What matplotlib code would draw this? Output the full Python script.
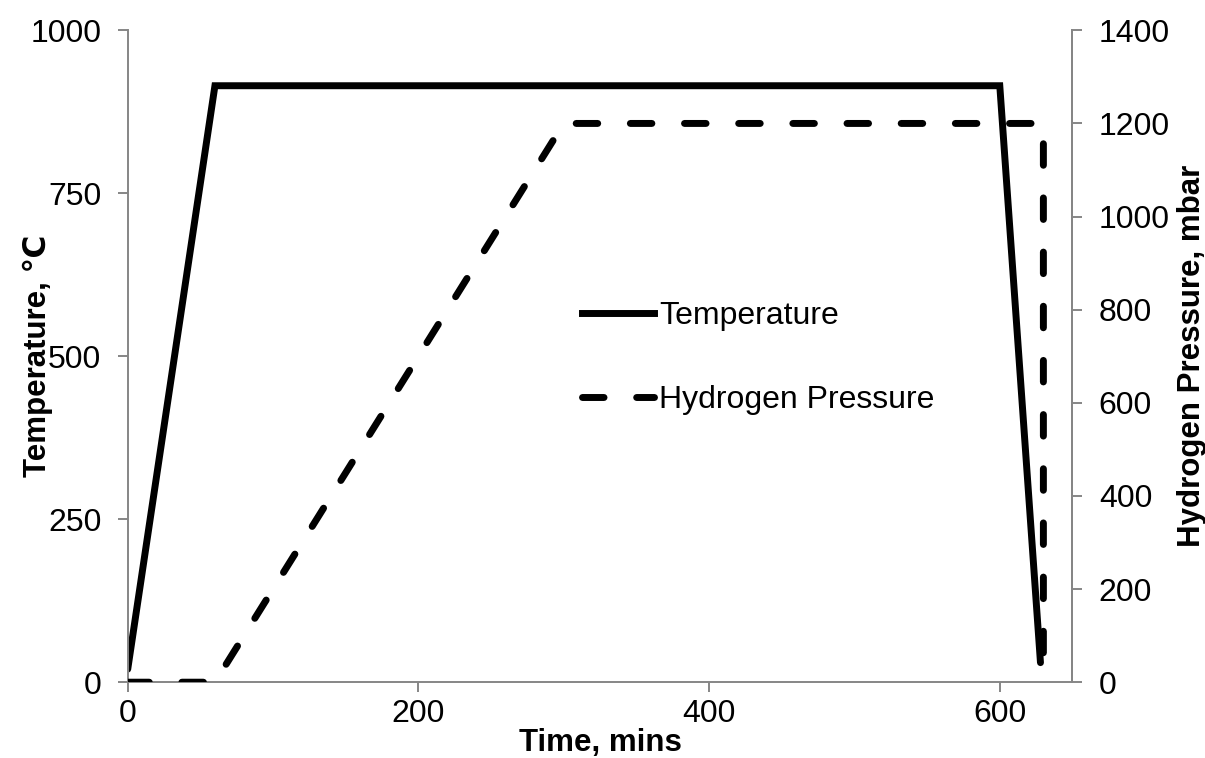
import matplotlib
matplotlib.use("Agg")
import matplotlib.pyplot as plt
from matplotlib.lines import Line2D

plt.rcParams["font.family"] = ["Liberation Sans", "DejaVu Sans"]

# temperature profile (min, degC)
temp_time = [0, 60, 600, 628]
temp_vals = [20, 915, 915, 30]

# hydrogen pressure profile (min, mbar)
pres_time = [0, 60, 300, 630, 630]
pres_vals = [0, 0, 1200, 1200, 40]

x_ticks = [0, 200, 400, 600]
t_ticks = [0, 250, 500, 750, 1000]
p_ticks = [0, 200, 400, 600, 800, 1000, 1200, 1400]

grey = "#868686"
lw = 5.0
dash = (3.1, 4.7)

fig = plt.figure(figsize=(12.05, 7.58), dpi=100)
ax = fig.add_axes([0.106, 0.100, 0.784, 0.860])
ax2 = ax.twinx()

ax.plot(temp_time, temp_vals, color="black", lw=lw, solid_capstyle="round",
        solid_joinstyle="miter")
ax2.plot(pres_time, pres_vals, color="black", lw=lw, dashes=dash,
         dash_capstyle="round")

ax.set_xlim(0, 650)
ax.set_ylim(0, 1000)
ax2.set_ylim(0, 1400)
ax.set_xticks(x_ticks)
ax.set_yticks(t_ticks)
ax2.set_yticks(p_ticks)

for a in (ax, ax2):
    a.spines["top"].set_visible(False)
    for s in ("left", "right", "bottom"):
        a.spines[s].set_color(grey)
        a.spines[s].set_linewidth(1.4)
    a.tick_params(direction="out", length=7, width=1.4, color=grey,
                  labelsize=23)
    a.tick_params(axis="y", pad=12)
ax.tick_params(axis="x", pad=5)
ax2.spines["left"].set_visible(False)
ax2.spines["bottom"].set_visible(False)

ax.set_xlabel("Time, mins", fontsize=22.5, fontweight="bold")
ax.xaxis.set_label_coords(0.5, -0.071)
ax.set_ylabel("Temperature, \u2103", fontsize=22.5, fontweight="bold")
ax.yaxis.set_label_coords(-0.079, 0.5)
ax2.set_ylabel("Hydrogen Pressure, mbar", fontsize=22.5, fontweight="bold")
ax2.yaxis.set_label_coords(1.111, 0.5)

handles = [
    Line2D([], [], color="black", lw=lw),
    Line2D([], [], color="black", lw=lw, dashes=dash, dash_capstyle="round"),
]
ax.legend(handles, ["Temperature", "Hydrogen Pressure"], frameon=False,
          fontsize=23, loc="upper left", bbox_to_anchor=(0.481, 0.585),
          handlelength=2.25, handletextpad=0.15, labelspacing=1.7,
          borderaxespad=0, borderpad=0)

fig.savefig("out.png", dpi=100)
